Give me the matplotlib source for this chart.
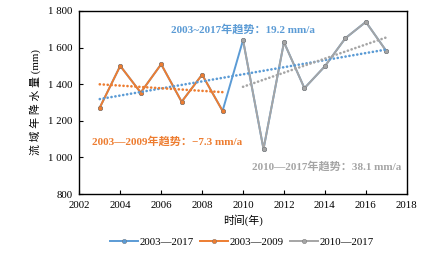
import matplotlib
matplotlib.use('Agg')
import matplotlib.pyplot as plt
import numpy as np

plt.rcParams['font.family'] = ['Liberation Serif', 'Noto Sans CJK SC']
plt.rcParams['axes.unicode_minus'] = False

years = np.arange(2003, 2018)
rain = [1272, 1500, 1354, 1509, 1304, 1452, 1254, 1641,
        1046, 1629, 1378, 1498, 1651, 1740, 1581]

labels = ['2003—2017', '2003—2009', '2010—2017']
colors = ['#5B9BD5', '#ED7D31', '#A5A5A5']
spans = [(2003, 2017), (2003, 2009), (2010, 2017)]
trend_texts = ['2003~2017年趋势：19.2 mm/a',
               '2003—2009年趋势：−7.3 mm/a',
               '2010—2017年趋势：38.1 mm/a']

fig = plt.figure(figsize=(4.48, 2.54), dpi=100)
ax = fig.add_axes([0.177, 0.236, 0.731, 0.721])

rain = np.array(rain)
for (a, b), lab, c in zip(spans, labels, colors):
    m = (years >= a) & (years <= b)
    ax.plot(years[m], rain[m], '-', color=c, lw=1.4, marker='o', ms=3.2,
            mfc=c, mec='#707070', mew=0.3, label=lab, zorder=3)

# linear trends
for (a, b), c in zip(spans, colors):
    m = (years >= a) & (years <= b)
    k, b0 = np.polyfit(years[m], rain[m], 1)
    ax.plot(years[m], k * years[m] + b0, color=c, lw=1.9,
            linestyle=(0, (0.05, 1.45)), dash_capstyle='round', zorder=4)

ax.text(2006.5, 1700, trend_texts[0], color=colors[0], fontsize=8,
        fontweight='bold', va='center')
ax.text(2002.6, 1086, trend_texts[1], color=colors[1], fontsize=8,
        fontweight='bold', va='center')
ax.text(2010.45, 949, trend_texts[2], color=colors[2], fontsize=8,
        fontweight='bold', va='center')

ax.set_xlim(2002, 2018)
ax.set_ylim(800, 1800)
ax.set_xticks(range(2002, 2019, 2))
yt = range(800, 1801, 200)
ax.set_yticks(yt)
ax.set_yticklabels([f'{v:,}'.replace(',', ' ') for v in yt])
ax.tick_params(direction='in', length=3, width=0.8, labelsize=7.8, pad=5)
for s in ax.spines.values():
    s.set_linewidth(1.0)

ax.set_xlabel('时间(年)', fontsize=7.8, labelpad=3)
ax.set_ylabel('流 域 年 降 水 量 (mm)', fontsize=7.8, labelpad=5)

fig.legend(loc='lower center', bbox_to_anchor=(0.54, -0.01), ncol=3,
           frameon=False, fontsize=7.8, handlelength=2.6, handletextpad=0.2,
           columnspacing=0.5)

fig.savefig('out.png', dpi=100)
